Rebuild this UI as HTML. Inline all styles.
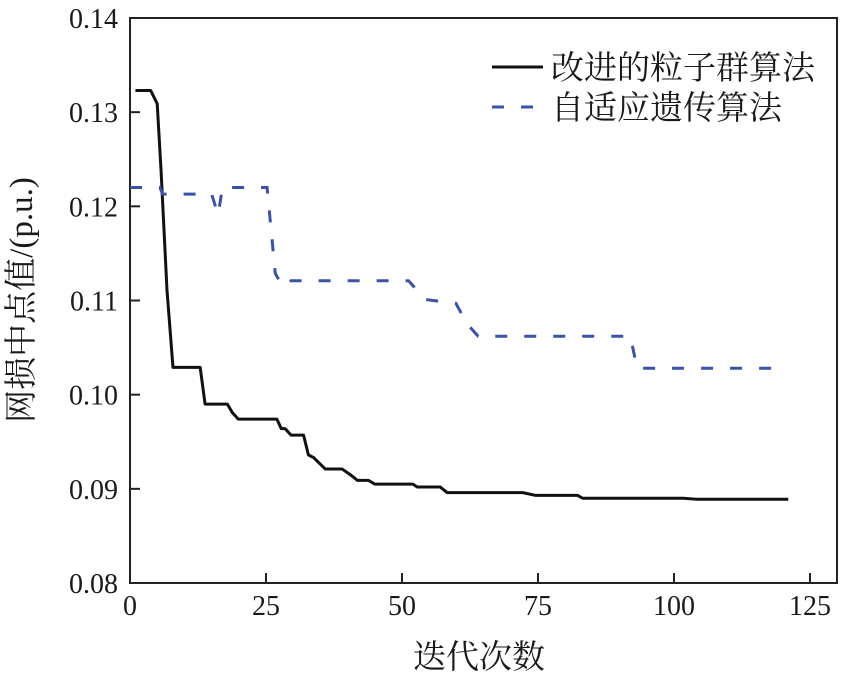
<!DOCTYPE html>
<html><head><meta charset="utf-8"><style>
body{margin:0;background:#fff}
svg text{font-family:"Liberation Serif","Noto Serif CJK SC",serif;fill:#1a1a1a}
</style></head><body>
<svg id="chart" width="843" height="677" viewBox="0 0 843 677" xmlns="http://www.w3.org/2000/svg"></svg>
<script>
const xTicks=[0,25,50,75,100,125];
const yTicks=[0.08,0.09,0.10,0.11,0.12,0.13,0.14];
const yTickLabels=["0.08","0.09","0.10","0.11","0.12","0.13","0.14"];
const psoX=[1,3.8,5,5.7,6.8,7.9,12.9,13.8,17.9,18.8,19.9,27,27.8,28.5,29.6,31.9,32.8,33.8,35.9,39,40.5,41.8,43.8,45,52,52.8,57,58.3,72.2,74.6,82.3,83.2,101.7,104,121];
const psoY=[0.1323,0.1323,0.1309,0.1239,0.1111,0.1029,0.1029,0.0990,0.0990,0.0981,0.0974,0.0974,0.0964,0.0964,0.0957,0.0957,0.0936,0.0933,0.0921,0.0921,0.0915,0.0909,0.0909,0.0905,0.0905,0.0902,0.0902,0.0896,0.0896,0.0893,0.0893,0.0890,0.0890,0.0889,0.0889];
const gaX=[0,5.5,6,15,16.2,17,25.2,26.7,28,29.6,51.2,54.3,59.9,62,64,92,93.2,119.7];
const gaY=[0.1220,0.1220,0.1213,0.1213,0.1191,0.1220,0.1220,0.1129,0.1115,0.1121,0.1121,0.1101,0.1097,0.1075,0.1062,0.1062,0.1028,0.1028];
const L=130,R=837,T=18,B=583,X0=0,Y0=0.08,Y1=0.14;
const sx=v=>L+(v-X0)/(125-X0)*(810-L);
const sy=v=>B-(v-Y0)/(Y1-Y0)*(B-T);
const svg=document.getElementById('chart');
const NS='http://www.w3.org/2000/svg';
function mk(tag,attrs,parent){const e=document.createElementNS(NS,tag);for(const k in attrs)e.setAttribute(k,attrs[k]);(parent||svg).appendChild(e);return e;}
const frame=mk('rect',{x:L,y:T,width:R-L,height:B-T,fill:'none',stroke:'#222','stroke-width':2});


xTicks.forEach(v=>{
  const t=mk('line',{x1:sx(v),x2:sx(v),y1:B,y2:B-10,stroke:'#222','stroke-width':2});
  
  
  const l=mk('text',{x:sx(v),y:B+32,'text-anchor':'middle','font-size':28});
  l.textContent=String(v);
  
  
});
yTicks.forEach((v,i)=>{
  const t=mk('line',{x1:L,x2:L+10,y1:sy(v),y2:sy(v),stroke:'#222','stroke-width':2});
  
  
  const l=mk('text',{x:L-12,y:sy(v)+10,'text-anchor':'end','font-size':28});
  l.textContent=yTickLabels[i];
  
  
});
const pso=mk('polyline',{points:psoX.map((x,i)=>sx(x)+','+sy(psoY[i])).join(' '),fill:'none',stroke:'#111','stroke-width':3,'stroke-linejoin':'round'});


const ga=mk('polyline',{points:gaX.map((x,i)=>sx(x)+','+sy(gaY[i])).join(' '),fill:'none',stroke:'#3a53a4','stroke-width':3,'stroke-dasharray':'12 17'});


const lg1=mk('line',{x1:492,x2:543,y1:67,y2:67,stroke:'#111','stroke-width':3});


const lt1=mk('text',{x:551,y:79,'font-size':33});
lt1.textContent='改进的粒子群算法';


const lg2=mk('line',{x1:492,x2:543,y1:107,y2:107,stroke:'#3a53a4','stroke-width':3,'stroke-dasharray':'12 17'});


const lt2=mk('text',{x:551,y:119,'font-size':33});
lt2.textContent='自适应遗传算法';


const xt=mk('text',{x:479,y:668,'text-anchor':'middle','font-size':33});
xt.textContent='迭代次数';


const yt=mk('text',{x:0,y:0,'text-anchor':'middle','font-size':33,transform:'translate(32,300) rotate(-90)'});
yt.textContent='网损中点值/(p.u.)';


</script>
</body></html>
